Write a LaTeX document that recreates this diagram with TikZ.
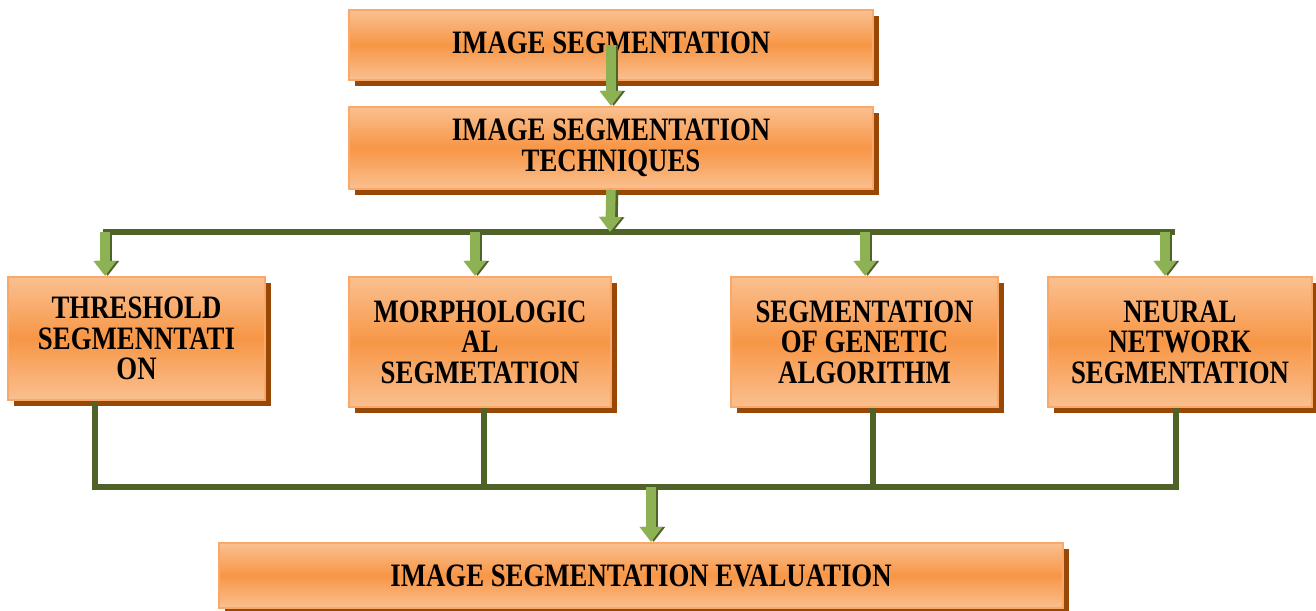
\documentclass[tikz,border=0pt]{standalone}
\usepackage{fontspec}
\setmainfont{Liberation Serif}
\newfontfamily\boxfont{Liberation Serif}[FakeStretch=0.82]
\usepackage{tikz}
\usetikzlibrary{arrows.meta, positioning, shadows, calc}
\definecolor{peach}{HTML}{FAC090}
\definecolor{deeporange}{HTML}{F79646}
\definecolor{rim}{HTML}{F9A869}
\definecolor{shadebrown}{HTML}{984806}
\definecolor{olive}{HTML}{4F6228}
\definecolor{leaf}{HTML}{8DB254}

\begin{document}
\begin{tikzpicture}[x=0.02cm, y=-0.02cm,
    every node/.style={font=\boxfont\fontsize{18.6}{17.4}\selectfont\bfseries},
    stage/.style={draw=rim, line width=1.2pt, align=center, inner sep=2pt,
      top color=peach, bottom color=peach, middle color=deeporange,
      drop shadow={shadow xshift=3.5pt, shadow yshift=-3.5pt, fill=shadebrown, opacity=1}},
    bus/.style={draw=olive, line width=0.12cm},
    arr/.style={draw=leaf, line width=0.19cm,
      -{Triangle[width=0.44cm, length=0.3cm]},
      preaction={draw=olive, line width=0.19cm, -{Triangle[width=0.44cm, length=0.3cm]},
        transform canvas={xshift=1.5pt}}}]
  \useasboundingbox (0,0) rectangle (1316,611);
  % Boxes
  \node[stage, minimum width=10.48cm, minimum height=1.4cm]  (seg)   at (611,45)    {\raisebox{3pt}{IMAGE SEGMENTATION}};
  \node[stage, minimum width=10.48cm, minimum height=1.64cm] (tech)  at (611,148)   {IMAGE SEGMENTATION\\TECHNIQUES};
  \node[stage, minimum width=5.14cm, minimum height=2.46cm]  (thr)   at (136.5,338.5) {THRESHOLD\\SEGMENNTATI\\ON};
  \node[stage, minimum width=5.24cm, minimum height=2.6cm]   (morph) at (480,342)   {MORPHOLOGIC\\AL\\SEGMETATION};
  \node[stage, minimum width=5.34cm, minimum height=2.6cm]   (gen)   at (864.5,342) {SEGMENTATION\\OF GENETIC\\ALGORITHM};
  \node[stage, minimum width=5.28cm, minimum height=2.6cm]   (neur)  at (1180,342)  {NEURAL\\NETWORK\\SEGMENTATION};
  \node[stage, minimum width=16.88cm, minimum height=1.3cm]  (eval)  at (641,575.5) {IMAGE SEGMENTATION EVALUATION};
  % Bus points
  \coordinate (busL) at (103,232);
  \coordinate (busR) at (1175,232);
  \coordinate (busT) at (610,232);
  \coordinate (a1) at (105,232);
  \coordinate (a2) at (475,232);
  \coordinate (a3) at (865,232);
  \coordinate (a4) at (1165,232);
  \coordinate (b1) at (95,487);
  \coordinate (b2) at (484,487);
  \coordinate (b3) at (873,487);
  \coordinate (b4) at (1176,487);
  \coordinate (c)  at (651,487);
  % Lines
  \draw[bus] (busL) -- (busR);
  \draw[bus] (b1 |- thr.south) -- (b1) -- (b4) -- (b4 |- neur.south);
  \draw[bus] (b2 |- morph.south) -- (b2);
  \draw[bus] (b3 |- gen.south) -- (b3);
  % Arrows
  \draw[arr] (seg.center) -- (tech.north);
  \draw[arr] (tech.south) -- (busT);
  \foreach \p/\q in {a1/thr, a2/morph, a3/gen, a4/neur}
    \draw[arr] (\p) -- (\p |- \q.north);
  \draw[arr] (c) -- (c |- eval.north);
\end{tikzpicture}
\end{document}
